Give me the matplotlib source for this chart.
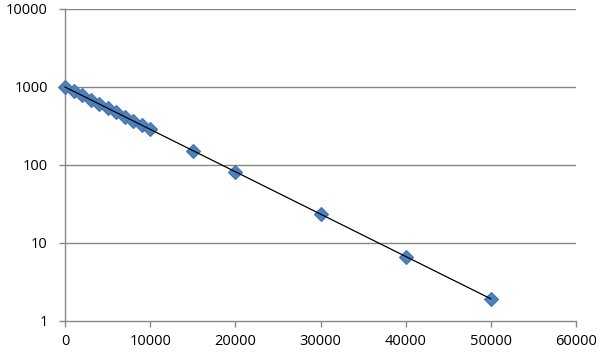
import numpy as np
import matplotlib
matplotlib.use("Agg")
import matplotlib.pyplot as plt
from matplotlib.ticker import FixedLocator, FixedFormatter, NullLocator

x_vals = [0, 1000, 2000, 3000, 4000, 5000, 6000, 7000, 8000, 9000, 10000,
          15000, 20000, 30000, 40000, 50000]
y_vals = [1000, 882, 779, 687, 607, 535, 472, 417, 368, 325, 287,
          153, 82, 23.5, 6.7, 1.93]
x_ticks = [0, 10000, 20000, 30000, 40000, 50000, 60000]
y_ticks = [1, 10, 100, 1000, 10000]
y_labels = ["1", "10", "100", "1000", "10000"]

plt.rcParams['font.family'] = ['Open Sans', 'DejaVu Sans']

fig = plt.figure(figsize=(6.07, 3.54), dpi=100)
ax = fig.add_axes([65/607, 1 - 321/354, (576-65)/607, (321-9)/354])

ax.set_yscale('log')
ax.set_xlim(0, 60000)
ax.set_ylim(1, 10000)

# trend line (exponential fit)
xa = np.array(x_vals, dtype=float)
ya = np.array(y_vals, dtype=float)
b, a = np.polyfit(xa, np.log(ya), 1)
xt = np.linspace(xa.min(), xa.max(), 200)
ax.plot(xt, np.exp(a + b * xt), color='black', lw=0.9, zorder=5, clip_on=False)

ax.plot(x_vals, y_vals, linestyle='none', marker='D', ms=7,
        mfc='#4F81BD', mec='#4073AE', mew=0.8, zorder=4, clip_on=False)

ax.yaxis.set_major_locator(FixedLocator(y_ticks))
ax.yaxis.set_major_formatter(FixedFormatter(y_labels))
ax.yaxis.set_minor_locator(NullLocator())
ax.xaxis.set_major_locator(FixedLocator(x_ticks))
ax.set_xticklabels([str(v) for v in x_ticks])

for yv in y_ticks[1:]:
    ax.axhline(yv, color='#878787', lw=1.0, zorder=1)

for s in ['top', 'right']:
    ax.spines[s].set_visible(False)
for s in ['left', 'bottom']:
    ax.spines[s].set_color('#878787')
    ax.spines[s].set_linewidth(1.0)

ax.tick_params(axis='both', direction='out', length=4.3, width=1.0,
               color='#878787', labelsize=10.5, labelcolor='black')
ax.tick_params(axis='x', pad=5)
ax.tick_params(axis='y', pad=8)

fig.savefig('out.png', dpi=100)
